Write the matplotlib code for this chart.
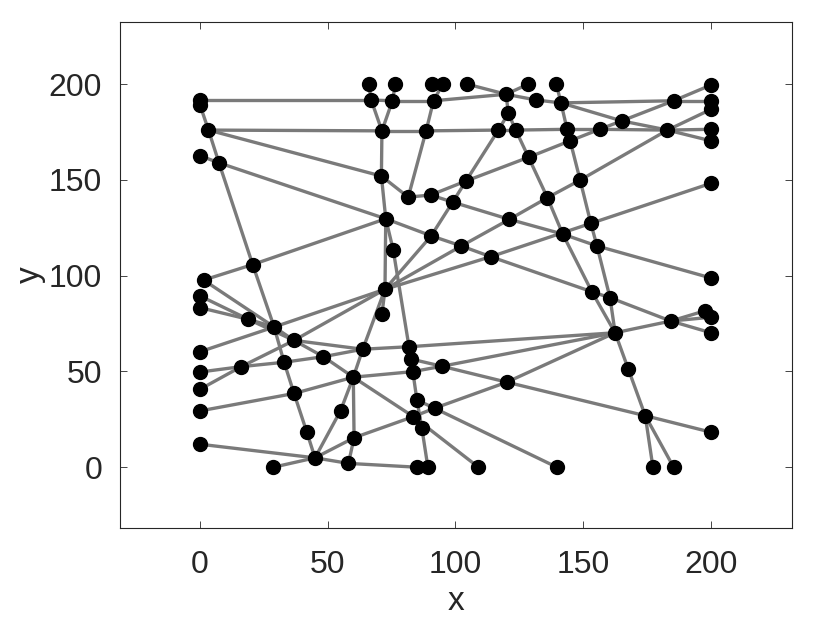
import matplotlib
matplotlib.use('Agg')
import matplotlib.pyplot as plt

plt.rcParams['font.family'] = ['Liberation Sans', 'DejaVu Sans']

# ---------------------------------------------
# Node positions, numbered 1..104
# ---------------------------------------------
node_x = [66, 76.5, 91, 95, 104.5, 128.5, 139.5, 200, 0, 0,            # 1-10
          67, 75.3, 91.4, 119.8, 131.6, 141.3, 185.4, 200, 200, 3.3,    # 11-20
          71.2, 88.5, 116.8, 123.6, 143.7, 156.4, 183, 200, 200, 165.1, # 21-30
          120.7, 144.9, 0, 7.4, 71, 81.5, 90.3, 98.9, 128.6, 104.1,     # 31-40
          148.8, 200, 72.7, 90.5, 102.3, 113.8, 121.1, 136, 142, 153,   # 41-50
          155.4, 75.6, 20.6, 200, 1.4, 72.4, 0, 0, 18.9, 29,            # 51-60
          71.2, 36.8, 153.4, 160.5, 197.8, 200, 200, 184.3, 162.5, 0,   # 61-70
          63.7, 81.8, 82.5, 48.3, 32.9, 16.1, 0, 83.3, 94.7, 60,        # 71-80
          0, 36.8, 84.9, 91.8, 83.5, 55, 0, 86.8, 41.8, 60.3,           # 81-90
          0, 45, 28.7, 58.1, 85, 89.2, 120.1, 167.7, 174.3, 200,        # 91-100
          109, 139.7, 177.3, 185.4]                                     # 101-104

node_y = [200, 200, 200, 200, 200, 200, 200, 199.5, 191.7, 189,
          191.7, 191.3, 191.3, 194.7, 191.7, 190.2, 191.3, 191.3, 186.8, 176,
          175.6, 175.6, 176, 176, 176.4, 176.4, 176, 176.4, 170.4, 180.8,
          184.7, 170.4, 162.6, 158.9, 152, 141, 142.1, 138.4, 161.8, 149.4,
          149.9, 148.2, 129.7, 120.8, 115.5, 109.9, 129.4, 140.7, 121.7, 127.3,
          115.5, 113.6, 105.8, 98.8, 97.7, 92.9, 89.4, 83.3, 77.2, 73.2,
          79.8, 66.2, 91.6, 88.5, 81.7, 78.3, 70.2, 76.3, 70.2, 60.3,
          61.6, 62.9, 56.5, 57.7, 54.8, 52.5, 49.7, 49.9, 52.7, 47,
          40.7, 38.5, 35.1, 30.8, 26.4, 29.5, 29.4, 20.7, 18.3, 15.4,
          12, 4.9, 0, 2, 0, 0, 44.4, 51.1, 26.9, 18.3,
          0, 0, 0, 0]

# edges as pairs of node numbers (1-based)
edges = [(1, 11), (2, 12), (4, 13), (5, 14), (6, 14), (7, 16),
         (9, 11), (11, 12), (12, 13), (13, 14),
         (14, 31), (14, 15), (15, 16),
         (16, 17), (17, 18), (17, 8),
         (16, 25), (25, 32), (32, 41), (41, 50), (50, 51), (51, 64), (64, 69),
         (16, 30), (30, 27), (27, 29),
         (37, 40), (40, 39), (39, 32), (32, 26), (26, 30), (30, 17),
         (19, 27), (27, 41), (41, 48), (48, 47), (47, 45), (45, 56), (56, 62),
         (62, 76), (76, 81),
         (20, 21), (21, 22), (22, 23), (23, 24), (24, 25), (25, 26), (26, 27),
         (27, 28),
         (10, 20), (20, 34), (34, 53), (53, 60), (60, 75), (75, 82), (82, 89),
         (89, 92),
         (20, 35), (11, 21), (12, 21), (21, 35), (35, 43), (43, 56), (56, 61),
         (13, 22), (22, 36), (35, 36), (36, 37),
         (31, 23), (31, 24), (23, 40), (40, 38), (38, 44), (44, 56),
         (37, 38), (38, 47), (47, 49), (49, 51), (51, 54),
         (24, 39), (39, 48), (48, 49), (49, 63), (63, 69),
         (33, 34), (34, 43), (43, 44), (44, 45), (45, 46), (46, 63), (63, 64),
         (64, 68), (68, 67),
         (70, 60), (60, 56), (56, 46), (46, 50), (50, 42),
         (55, 53), (53, 43),
         (55, 60), (60, 62), (62, 74), (74, 80), (80, 85), (85, 101),
         (57, 59), (59, 62), (58, 59), (59, 60), (62, 71),
         (43, 52), (52, 72), (72, 73), (73, 78), (78, 83), (83, 88), (88, 96),
         (77, 76), (76, 75), (75, 74), (74, 71), (71, 72), (72, 69),
         (56, 71), (71, 80), (80, 86), (86, 92),
         (87, 82), (82, 80), (80, 78), (78, 79), (79, 69),
         (73, 79), (79, 97), (97, 99), (99, 100),
         (90, 85), (85, 84), (84, 97), (97, 69),
         (83, 84), (84, 102),
         (80, 90), (90, 94), (90, 92),
         (91, 92), (93, 92), (92, 94), (94, 95),
         (69, 68), (68, 65), (68, 66),
         (69, 98), (98, 99), (99, 103), (99, 104)]

x_ticks = [0, 50, 100, 150, 200]
y_ticks = [0, 50, 100, 150, 200]

# ---------------------------------------------
# Plot
# ---------------------------------------------
fig = plt.figure(figsize=(8.4, 6.3), dpi=100)
ax = fig.add_axes([0.143, 0.162, 0.8, 0.803])

for a, b in edges:
    ax.plot([node_x[a - 1], node_x[b - 1]], [node_y[a - 1], node_y[b - 1]],
            color='#7a7a7a', linewidth=2.4, solid_capstyle='round', zorder=1)

ax.plot(node_x, node_y, 'o', color='black', markersize=10, zorder=2)

ax.set_xlim(-31.3, 231.8)
ax.set_ylim(-31.7, 232.4)
ax.set_xticks(x_ticks)
ax.set_yticks(y_ticks)
ax.tick_params(labelsize=23, direction='in', length=5, width=0.6,
               top=True, right=True, colors='#262626')
ax.tick_params(axis='x', pad=16)
ax.tick_params(axis='y', pad=13)
ax.set_xlabel('x', fontsize=24, color='#262626', labelpad=4)
ax.set_ylabel('y', fontsize=24, color='#262626', labelpad=2)
for s in ax.spines.values():
    s.set_linewidth(0.8)
    s.set_color('#262626')

fig.savefig('out.png', dpi=100, facecolor='white')
